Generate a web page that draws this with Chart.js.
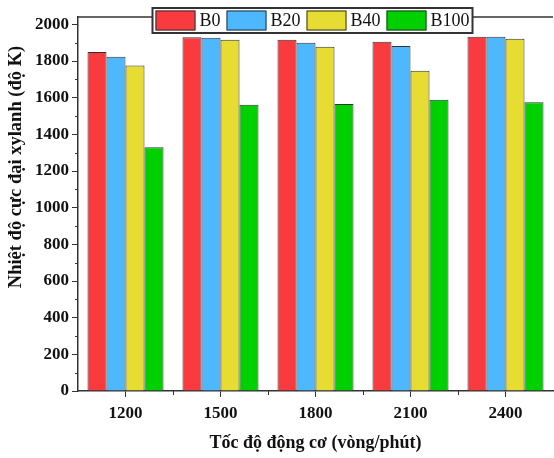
<!DOCTYPE html>
<html>
<head>
<meta charset="utf-8">
<script src="https://cdn.jsdelivr.net/npm/chart.js@4/dist/chart.umd.min.js"></script>
<style>
    html, body { margin: 0; padding: 0; background: #fff; }
    #wrap { width: 554px; height: 458px; position: relative; }
</style>
</head>
<body>
<div id="wrap"><canvas id="tempChart"></canvas></div>
<script>
// Tốc độ động cơ (vòng/phút)
const speeds = ['1200', '1500', '1800', '2100', '2400'];
// Nhiệt độ cực đại xylanh (độ K)
const b0 = [1849, 1929, 1916, 1905, 1932];
const b20 = [1823, 1927, 1900, 1882, 1932];
const b40 = [1775, 1916, 1878, 1747, 1921];
const b100 = [1330, 1562, 1566, 1588, 1575];
const seriesNames = ['B0', 'B20', 'B40', 'B100'];
const seriesColors = ['#f93b3f', '#4db8fe', '#e6dc32', '#00d000'];
// vạch chính trục Y
const yTickValues = [0, 200, 400, 600, 800, 1000, 1200, 1400, 1600, 1800, 2000];

const axisColor = '#333';
const serif = '"Liberation Serif", "Times New Roman", serif';

// Khung viền trên, vạch phụ, chú thích và tiêu đề trục Y
const decorPlugin = {
    id: 'decor',
    afterDraw(chart) {
        const ctx = chart.ctx;
        const area = chart.chartArea;
        const xs = chart.scales.x;
        const ys = chart.scales.y;
        ctx.save();
        ctx.strokeStyle = axisColor;
        ctx.lineWidth = 1.5;
        // viền trên
        ctx.beginPath();
        ctx.moveTo(area.left, area.top);
        ctx.lineTo(area.right, area.top);
        ctx.stroke();

        // vạch phụ trục Y (giữa các vạch chính)
        ctx.lineWidth = 1;
        for (let i = 0; i < yTickValues.length - 1; i++) {
            const v = (yTickValues[i] + yTickValues[i + 1]) / 2;
            const y = Math.round(ys.getPixelForValue(v)) + 0.5;
            ctx.beginPath();
            ctx.moveTo(area.left - 3, y);
            ctx.lineTo(area.left, y);
            ctx.stroke();
        }
        // vạch phụ trục X (ranh giới nhóm)
        for (let i = 0; i <= speeds.length; i++) {
            const x = Math.round(xs.getPixelForValue(i - 0.5)) + 0.5;
            if (x <= area.left + 1 || x >= area.right - 1) continue;
            ctx.beginPath();
            ctx.moveTo(x, area.bottom);
            ctx.lineTo(x, area.bottom + 4);
            ctx.stroke();
        }

        // chú thích
        ctx.font = '18px ' + serif;
        ctx.textBaseline = 'middle';
        const swW = 40, swH = 20, pad = 3, gapText = 4, gapItem = 6;
        let total = pad;
        const widths = chart.data.datasets.map(ds => ctx.measureText(ds.label).width);
        widths.forEach((w, i) => {
            total += swW + gapText + w + (i < widths.length - 1 ? gapItem : pad);
        });
        const boxH = 25;
        const boxLeft = (area.left + area.right) / 2 - total / 2 - 3;
        const boxTop = 8;
        ctx.fillStyle = '#fff';
        ctx.fillRect(boxLeft, boxTop, total, boxH);
        ctx.lineWidth = 2;
        ctx.strokeStyle = axisColor;
        ctx.strokeRect(boxLeft, boxTop, total, boxH);
        let x = boxLeft + pad;
        const cy = boxTop + boxH / 2;
        chart.data.datasets.forEach((ds, i) => {
            ctx.fillStyle = ds.backgroundColor;
            ctx.fillRect(x, cy - swH / 2, swW, swH);
            ctx.lineWidth = 1;
            ctx.strokeStyle = axisColor;
            ctx.strokeRect(x + 0.5, cy - swH / 2 + 0.5, swW - 1, swH - 1);
            x += swW + gapText;
            ctx.fillStyle = '#111';
            ctx.textAlign = 'left';
            ctx.fillText(ds.label, x, cy + 1);
            x += widths[i] + gapItem;
        });

        // tiêu đề trục Y
        ctx.font = 'bold 18.5px ' + serif;
        ctx.fillStyle = '#111';
        ctx.textAlign = 'center';
        ctx.translate(16, (area.top + area.bottom) / 2 - 37);
        ctx.rotate(-Math.PI / 2);
        ctx.fillText('Nhiệt độ cực đại xylanh (độ K)', 0, 0);
        ctx.restore();
    }
};

const ctx = document.getElementById('tempChart').getContext('2d');
new Chart(ctx, {
    type: 'bar',
    data: {
        labels: speeds,
        datasets: [b0, b20, b40, b100].map((vals, i) => ({
            label: seriesNames[i],
            data: vals,
            backgroundColor: seriesColors[i],
            borderColor: axisColor,
            borderWidth: 1,
            categoryPercentage: 0.8,
            barPercentage: 1
        }))
    },
    options: {
        responsive: true,
        maintainAspectRatio: false,
        animation: false,
        layout: { padding: { left: 0, right: 1, top: 17, bottom: 0 } },
        plugins: {
            legend: { display: false },
            tooltip: { enabled: false }
        },
        scales: {
            x: {
                grid: {
                    drawOnChartArea: false,
                    offset: false,
                    tickLength: 6,
                    tickColor: axisColor
                },
                border: { color: axisColor, width: 1.5 },
                ticks: {
                    color: '#111',
                    padding: 6,
                    font: { family: serif, size: 17, weight: 'bold' }
                },
                title: {
                    display: true,
                    text: 'Tốc độ động cơ (vòng/phút)',
                    color: '#111',
                    padding: { top: 12 },
                    font: { family: serif, size: 18, weight: 'bold' }
                },
                afterFit(scale) { scale.height = 67; }
            },
            y: {
                min: 0,
                max: 2040,
                grid: {
                    drawOnChartArea: false,
                    tickLength: 6,
                    tickColor: axisColor
                },
                border: { color: axisColor, width: 1.5 },
                ticks: {
                    autoSkip: false,
                    color: '#111',
                    padding: 3,
                    font: { family: serif, size: 17, weight: 'bold' },
                    callback: v => String(v)
                },
                afterBuildTicks(scale) {
                    scale.ticks = yTickValues.map(v => ({ value: v }));
                },
                afterFit(scale) { scale.width = 78; }
            }
        }
    },
    plugins: [decorPlugin]
});
</script>
</body>
</html>
